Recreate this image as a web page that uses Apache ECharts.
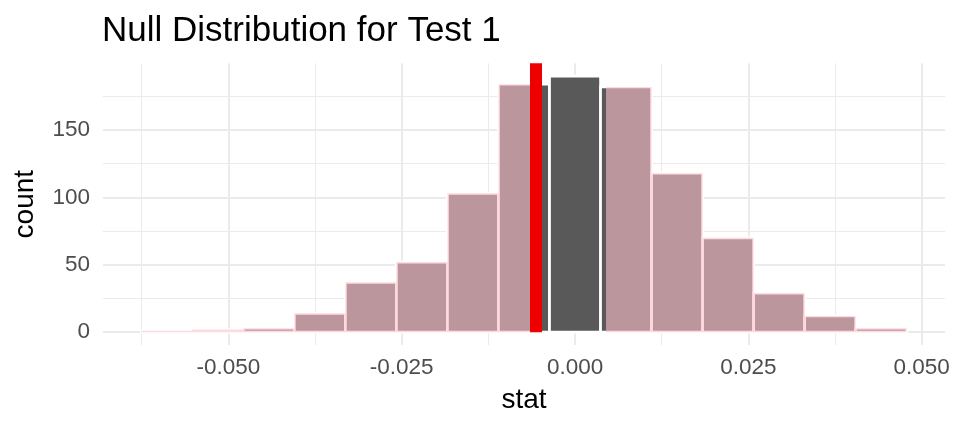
<!DOCTYPE html>
<html><head><meta charset="utf-8">
<script src="https://cdn.jsdelivr.net/npm/echarts@6/dist/echarts.min.js"></script>
<style>html,body{margin:0;padding:0;background:#fff}#c{width:960px;height:432px}</style>
</head><body><div id="c"></div>
<script>
// ---- data ----
const binCenters = [-0.05888, -0.05152, -0.04416, -0.0368, -0.02944, -0.02208, -0.01472, -0.00736, 0.0, 0.00736, 0.01472, 0.02208, 0.02944, 0.0368, 0.04416];
const counts = [1, 2, 3, 14, 37, 52, 103, 184, 190, 182, 118, 70, 29, 12, 3];
const binWidth = 0.00736;
const obsStat = -0.0056;      // observed statistic (red line)
const mirrorStat = 0.00447;   // mirrored cut for two-sided shading
const xTicks = [-0.050, -0.025, 0.000, 0.025, 0.050];
const xMinorGrid = [-0.0625, -0.0375, -0.0125, 0.0125, 0.0375];
const yTicks = [0, 50, 100, 150];
const yMinorGrid = [25, 75, 125, 175];
const xLimits = [-0.06808, 0.05336];
const yLimits = [-9.5, 199.5];

const FONT = 'Liberation Sans, Arial, sans-serif';
const chart = echarts.init(document.getElementById('c'), null, {renderer: 'canvas'});

const barData = binCenters.map((c, i) => [c - binWidth / 2, c + binWidth / 2, counts[i]]);

function shadePolygon(api, side) {
  const pts = [];
  if (side === 0) {
    const start = binCenters[0] - binWidth / 2;
    pts.push(api.coord([start, 0]));
    for (let i = 0; i < binCenters.length; i++) {
      const l = binCenters[i] - binWidth / 2, r = binCenters[i] + binWidth / 2;
      if (l >= obsStat) break;
      const rr = Math.min(r, obsStat);
      pts.push(api.coord([l, counts[i]]));
      pts.push(api.coord([rr, counts[i]]));
    }
    pts.push(api.coord([obsStat, 0]));
  } else {
    pts.push(api.coord([mirrorStat, 0]));
    for (let i = 0; i < binCenters.length; i++) {
      const l = binCenters[i] - binWidth / 2, r = binCenters[i] + binWidth / 2;
      if (r <= mirrorStat) continue;
      const ll = Math.max(l, mirrorStat);
      pts.push(api.coord([ll, counts[i]]));
      pts.push(api.coord([r, counts[i]]));
    }
    const end = binCenters[binCenters.length - 1] + binWidth / 2;
    pts.push(api.coord([end, 0]));
  }
  return pts;
}

const vLine = (v, w) => [{coord: [v, yLimits[0]], lineStyle: {width: w}}, {coord: [v, yLimits[1]]}];
const hLine = (v, w) => [{coord: [xLimits[0], v], lineStyle: {width: w}}, {coord: [xLimits[1], v]}];
const gridLines = [];
xTicks.forEach(v => gridLines.push(vLine(v, 2)));
xMinorGrid.forEach(v => gridLines.push(vLine(v, 1)));
yTicks.forEach(v => gridLines.push(hLine(v, 2)));
yMinorGrid.forEach(v => gridLines.push(hLine(v, 1)));

chart.setOption({
  animation: false,
  backgroundColor: '#fff',
  title: {
    text: 'Null Distribution for Test 1',
    left: 102, top: 14, padding: 0,
    textStyle: {fontFamily: FONT, fontSize: 35, fontWeight: 'normal', color: '#000', lineHeight: 35}
  },
  grid: {left: 103, right: 15, top: 63.3, bottom: 87, containLabel: false, outerBoundsMode: 'none'},
  xAxis: {
    type: 'value', min: xLimits[0], max: xLimits[1],
    name: 'stat', nameLocation: 'middle', nameGap: 41,
    nameTextStyle: {fontFamily: FONT, fontSize: 28, color: '#000'},
    axisLine: {show: false}, axisTick: {show: false}, splitLine: {show: false},
    axisLabel: {customValues: xTicks, formatter: v => v.toFixed(3), margin: 11,
      fontFamily: FONT, fontSize: 22.5, color: '#4D4D4D'}
  },
  yAxis: {
    type: 'value', min: yLimits[0], max: yLimits[1],
    name: 'count', nameLocation: 'middle', nameGap: 64, nameRotate: 90,
    nameTextStyle: {fontFamily: FONT, fontSize: 28, color: '#000'},
    axisLine: {show: false}, axisTick: {show: false}, splitLine: {show: false},
    axisLabel: {customValues: yTicks, margin: 13,
      fontFamily: FONT, fontSize: 22.5, color: '#4D4D4D'}
  },
  series: [
    {
      type: 'line', data: [], z: 0, silent: true,
      markLine: {silent: true, z: 0, symbol: ['none', 'none'], label: {show: false},
        lineStyle: {color: '#EBEBEB', type: 'solid'}, emphasis: {disabled: true},
        data: gridLines}
    },
    {
      type: 'custom', z: 2, silent: true,
      data: barData,
      renderItem: (params, api) => {
        const p0 = api.coord([api.value(0), 0]);
        const p1 = api.coord([api.value(1), api.value(2)]);
        return {type: 'rect',
          shape: {x: p0[0], y: p1[1], width: p1[0] - p0[0], height: p0[1] - p1[1]},
          style: {fill: '#595959', stroke: '#ffffff', lineWidth: 2.7}};
      }
    },
    {
      type: 'custom', z: 3, silent: true,
      data: [0, 1],
      renderItem: (params, api) => ({
        type: 'polygon',
        shape: {points: shadePolygon(api, params.dataIndex)},
        style: {fill: 'rgba(255,192,203,0.6)'}
      }),
      markLine: {silent: true, symbol: ['none', 'none'], label: {show: false}, z: 5,
        emphasis: {disabled: true},
        lineStyle: {color: '#EE0000', width: 12, type: 'solid', cap: 'butt'},
        data: [[{coord: [obsStat, 0]}, {coord: [obsStat, yLimits[1]]}]]}
    }
  ]
});
</script></body></html>
